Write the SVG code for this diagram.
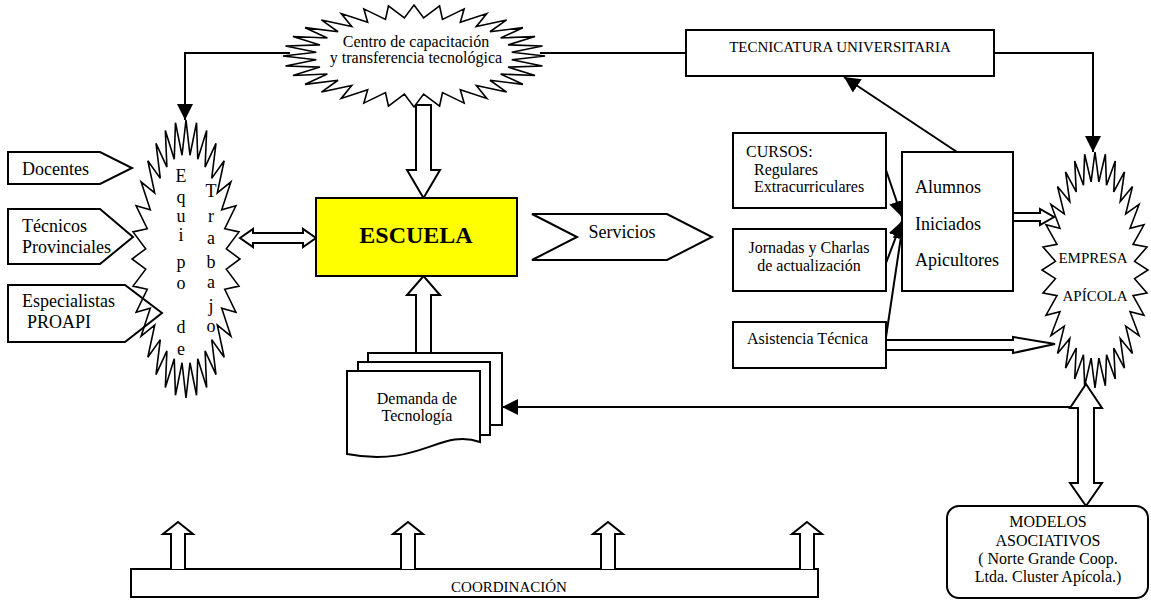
<svg xmlns="http://www.w3.org/2000/svg" width="1151" height="600" viewBox="0 0 1151 600" font-family="'Liberation Serif', 'DejaVu Serif', serif">
<style>
text{font-family:'Liberation Serif','DejaVu Serif',serif;fill:#000}
.box{fill:#fff;stroke:#000;stroke-width:2}
.nofill{fill:none;stroke:#000;stroke-width:2}
.ln{fill:none;stroke:#000;stroke-width:2}
.blk{fill:#fff;stroke:#000;stroke-width:2}
.s15{font-size:15px}
.s16{font-size:16px}
.s18{font-size:18px}
.mid{text-anchor:middle}
</style>
<defs>
<marker id="ah" markerWidth="16" markerHeight="16" refX="16" refY="8" orient="auto" markerUnits="userSpaceOnUse">
<path d="M0,0 L16,8 L0,16 Z" fill="#000"/>
</marker>
<polygon id="star32" fill="#fff" stroke="#000" stroke-width="1.6" vector-effect="non-scaling-stroke" points="0,-1 .0735,-.7464 .1951,-.9808 .2177,-.7177 .3827,-.9239 .3536,-.6614 .5556,-.8315 .4758,-.5798 .7071,-.7071 .5798,-.4758 .8315,-.5556 .6614,-.3536 .9239,-.3827 .7177,-.2177 .9808,-.1951 .7464,-.0735 1,0 .7464,.0735 .9808,.1951 .7177,.2177 .9239,.3827 .6614,.3536 .8315,.5556 .5798,.4758 .7071,.7071 .4758,.5798 .5556,.8315 .3536,.6614 .3827,.9239 .2177,.7177 .1951,.9808 .0735,.7464 0,1 -.0735,.7464 -.1951,.9808 -.2177,.7177 -.3827,.9239 -.3536,.6614 -.5556,.8315 -.4758,.5798 -.7071,.7071 -.5798,.4758 -.8315,.5556 -.6614,.3536 -.9239,.3827 -.7177,.2177 -.9808,.1951 -.7464,.0735 -1,0 -.7464,-.0735 -.9808,-.1951 -.7177,-.2177 -.9239,-.3827 -.6614,-.3536 -.8315,-.5556 -.5798,-.4758 -.7071,-.7071 -.4758,-.5798 -.5556,-.8315 -.3536,-.6614 -.3827,-.9239 -.2177,-.7177 -.1951,-.9808 -.0735,-.7464"/>
</defs>
<rect width="1151" height="600" fill="#fff"/>

<g id="connectors">
<path class="ln" d="M290,53 H185 V120" marker-end="url(#ah)"/>
<path class="ln" d="M540,53 H686"/>
<path class="ln" d="M994,53 H1093 V152" marker-end="url(#ah)"/>
<path class="ln" d="M957,152 L844,77" marker-end="url(#ah)"/>
<path class="ln" d="M886,170 L902,217" marker-end="url(#ah)"/>
<path class="ln" d="M886,263 L902,221" marker-end="url(#ah)"/>
<path class="ln" d="M886,337 L903,223" marker-end="url(#ah)"/>
<path class="ln" d="M1072,407 H502" marker-end="url(#ah)"/>
</g>

<g id="centro">
<use href="#star32" transform="translate(414,56) scale(131,51)"/>
<text class="s16 mid" x="416" y="47">Centro de capacitación</text>
<text class="s16 mid" x="416" y="63">y transferencia tecnológica</text>
</g>

<g id="tecnicatura">
<rect class="box" x="686" y="30" width="308" height="46"/>
<text class="s15 mid" x="840" y="52">TECNICATURA UNIVERSITARIA</text>
</g>

<g id="equipo">
<use href="#star32" transform="translate(186,259) scale(54,139)"/>
<text class="s18 mid"><tspan x="181" y="182">E</tspan><tspan x="181" y="203">q</tspan><tspan x="181" y="222">u</tspan><tspan x="181" y="241">i</tspan><tspan x="181" y="268">p</tspan><tspan x="181" y="289">o</tspan><tspan x="181" y="333">d</tspan><tspan x="181" y="355">e</tspan></text>
<text class="s18 mid"><tspan x="211" y="197">T</tspan><tspan x="211" y="222">r</tspan><tspan x="211" y="244">a</tspan><tspan x="211" y="268">b</tspan><tspan x="211" y="288">a</tspan><tspan x="211" y="312">j</tspan><tspan x="211" y="332">o</tspan></text>
</g>

<g id="docentes">
<polygon class="nofill" points="8,152 100,152 132,168 100,184 8,184"/>
<text class="s18" x="22" y="175">Docentes</text>
</g>

<g id="tecnicos">
<polygon class="nofill" points="8,209 100,209 133,237 100,264 8,264"/>
<text class="s18" x="22" y="232">Técnicos</text>
<text class="s18" x="22" y="253">Provinciales</text>
</g>

<g id="especialistas">
<polygon class="nofill" points="8,285 125,285 162,313 125,342 8,342"/>
<text class="s18" x="22" y="307">Especialistas</text>
<text class="s18" x="27" y="328">PROAPI</text>
</g>

<g id="arrows-escuela">
<path class="blk" d="M240,238 L253,229 L253,233 L303,233 L303,229 L316,238 L303,247 L303,243 L253,243 L253,247 Z"/>
<path class="blk" d="M416,105 L431,105 L431,170 L440,170 L423.5,198 L407,170 L416,170 Z"/>
<path class="blk" d="M416,353 L416,295 L407,295 L423.5,276 L440,295 L431,295 L431,353"/>
</g>

<g id="escuela">
<rect x="316" y="198" width="201" height="78" fill="#ffff00" stroke="#000" stroke-width="2"/>
<text class="mid" x="416" y="243" font-size="24" font-weight="bold">ESCUELA</text>
</g>

<g id="servicios">
<polygon class="box" points="532,214 667,214 712,237 667,260 532,260 577,237"/>
<text class="s18 mid" x="622" y="238">Servicios</text>
</g>

<g id="cursos">
<rect class="box" x="733" y="133" width="153" height="75"/>
<text class="s16" x="746" y="157">CURSOS:</text>
<text class="s16" x="754" y="175">Regulares</text>
<text class="s16" x="754" y="192">Extracurriculares</text>
</g>

<g id="jornadas">
<rect class="box" x="733" y="229" width="153" height="62"/>
<text class="s16 mid" x="809" y="253">Jornadas y Charlas</text>
<text class="s16 mid" x="809" y="271">de actualización</text>
</g>

<g id="asistencia">
<rect class="box" x="733" y="322" width="153" height="46"/>
<text class="s16" x="747" y="344">Asistencia Técnica</text>
</g>

<g id="alumnos">
<rect class="box" x="902" y="152" width="111" height="139"/>
<text class="s18" x="915" y="193">Alumnos</text>
<text class="s18" x="915" y="230">Iniciados</text>
<text class="s18" x="915" y="266">Apicultores</text>
</g>

<g id="empresa">
<use href="#star32" transform="translate(1095,270) scale(53,118)"/>
<text class="s15 mid" x="1093" y="263">EMPRESA</text>
<text class="s15 mid" x="1095" y="301">APÍCOLA</text>
</g>

<g id="hollow-arrows">
<path class="nofill" d="M1013,213 L1040,213 L1040,209 L1054,217 L1040,225 L1040,221 L1013,221"/>
<path class="nofill" d="M886,340 L1013,340 L1013,337 L1055,344 L1013,353 L1013,350 L886,350"/>
<path class="blk" d="M1086,384 L1102,408 L1094,408 L1094,483 L1102,483 L1086,506 L1070,483 L1078,483 L1078,408 L1070,408 Z"/>
</g>

<g id="demanda">
<rect class="box" x="368" y="353" width="134" height="72"/>
<rect class="box" x="358" y="362" width="132" height="73"/>
<path class="box" d="M347,371 H480 V442 C440,428 420,468 347,454 Z"/>
<text class="s16 mid" x="417" y="404">Demanda de</text>
<text class="s16 mid" x="417" y="421">Tecnología</text>
</g>

<g id="modelos">
<rect class="box" x="947" y="506" width="201" height="92" rx="12" ry="12"/>
<text class="s16 mid" x="1048" y="527">MODELOS</text>
<text class="s16 mid" x="1048" y="546">ASOCIATIVOS</text>
<text class="s16 mid" x="1048" y="564">( Norte Grande Coop.</text>
<text class="s16 mid" x="1048" y="582">Ltda. Cluster Apícola.)</text>
</g>

<g id="coordinacion">
<rect class="box" x="131" y="569" width="687" height="28"/>
<text class="s15 mid" x="509" y="592">COORDINACIÓN</text>
<path class="blk" d="M171,569 V534 H163 L178,522 L193,534 H185 V569"/>
<path class="blk" d="M401,569 V534 H393 L408,522 L423,534 H415 V569"/>
<path class="blk" d="M601,569 V534 H593 L608,522 L623,534 H615 V569"/>
<path class="blk" d="M800,569 V534 H792 L807,522 L822,534 H814 V569"/>
</g>
</svg>
